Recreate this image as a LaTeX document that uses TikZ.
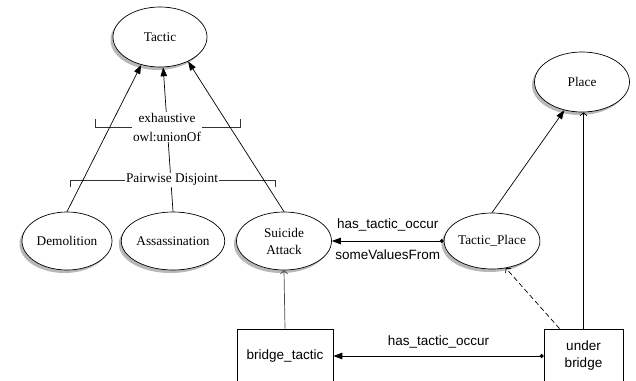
\documentclass[tikz,border=0pt]{standalone}
\usepackage{fontspec}
\setmainfont{Liberation Serif}
\setsansfont{Liberation Sans}
\usetikzlibrary{shapes.geometric,arrows.meta,shadows,calc}
\begin{document}
\begin{tikzpicture}[x=1pt,y=-1pt,
  cls/.style={ellipse, draw, line width=0.7pt, fill=white, inner sep=0pt, align=center,
    font=\fontsize{13.3}{17}\selectfont,
    drop shadow={shadow xshift=-2.5pt, shadow yshift=-3pt, fill=black!28, opacity=1}},
  inst/.style={rectangle, draw, line width=0.7pt, fill=white, inner sep=0pt, align=center,
    font=\sffamily\fontsize{13.5}{17}\selectfont},
  isa/.style={-{Triangle[length=9pt,width=6.5pt]}, line width=0.7pt},
  io/.style={-{Straight Barb[length=3pt,width=7pt]}, line width=0.7pt},
  prop/.style={{Circle[length=4pt]}-{Triangle[length=9pt,width=6.5pt]}, line width=1pt},
  lbl/.style={font=\sffamily\fontsize{13.5}{16}\selectfont, inner sep=1pt},
  brk/.style={line width=0.7pt, black!80},
  btxt/.style={fill=white, font=\fontsize{13.3}{19}\selectfont, align=center, inner sep=1pt}
]
\clip (0,0) rectangle (636,380);
\fill[white] (0,0) rectangle (636,380);

% classes
\node[cls, minimum width=94pt, minimum height=60pt] (tac) at (160,37) {Tactic};
\node[cls, minimum width=95pt, minimum height=60pt] (pl) at (582,82) {Place};
\node[cls, minimum width=90pt, minimum height=58pt] (dem) at (67,241) {Demolition};
\node[cls, minimum width=96pt, minimum height=58pt] (ass) at (173,241) {Assassination};
\node[cls, minimum width=95pt, minimum height=58pt] (sa) at (284,241) {Suicide\\Attack};
\node[cls, minimum width=86pt, minimum height=56pt] (tp) at (492,241) {Tactic\_Place};

% instances
\node[inst, minimum width=96pt, minimum height=54pt] (bt) at (285,356) {bridge\_tactic};
\node[inst, minimum width=79pt, minimum height=54pt] (ub) at (583.5,356) {under\\bridge};

% brackets
\draw[brk] (95,119) -- (95,127) -- (240,127) -- (240,119);
\draw[brk] (70,187) -- (70,180) -- (275,180) -- (275,187);

% subclass arrows
\draw[isa] (dem.north) -- (tac.236);
\draw[isa] (ass.north) -- (tac.276);
\draw[isa] (sa.north) -- (tac.319);
\draw[isa] (tp.north) -- (pl.238);

\node[btxt] (ex) at (167,127) {exhaustive\\owl:unionOf};
\node[btxt] (pd) at (172,180) {Pairwise Disjoint};

% instance-of arrows
\draw[io, black!70] (bt.north) -- (sa.south);
\coordinate (ubd) at ($(ub.north west)!0.2!(ub.north east)$);
\draw[io, dash pattern=on 5pt off 3pt] (ubd) -- (tp.297);
\draw[io] (ub.north) -- (ub.north |- pl.south);

% properties
\draw[prop] (tp.west) --
  node[lbl, yshift=16pt] (l1) {has\_tactic\_occur}
  node[lbl, yshift=-14pt] (l2) {someValuesFrom} (sa.east);
\draw[prop] (ub.west) -- node[lbl, yshift=14pt] (l3) {has\_tactic\_occur} (bt.east);
\end{tikzpicture}
\end{document}
